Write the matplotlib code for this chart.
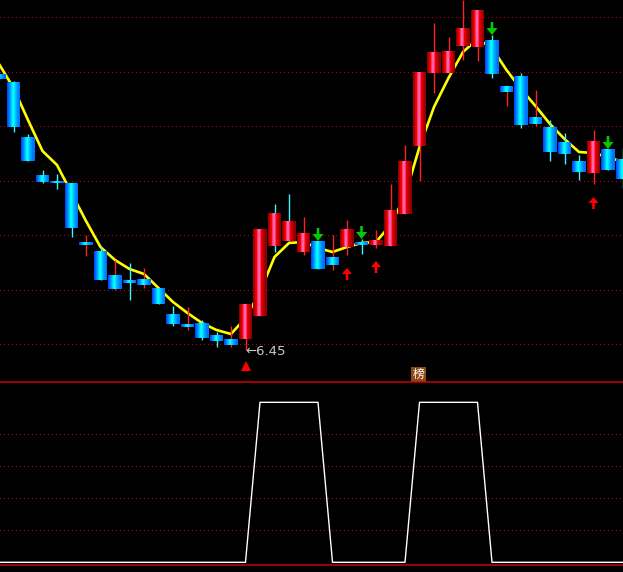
import numpy as np
import matplotlib.pyplot as plt

# daily bars (price units)
opens = [7.83, 7.79, 7.515, 7.325, 7.295, 7.285, 6.99, 6.945, 6.825, 6.80, 6.805,
         6.76, 6.63, 6.58, 6.585, 6.525, 6.505, 6.505, 6.62, 6.97, 6.995, 6.94,
         6.995, 6.915, 6.965, 6.99, 6.975, 6.97, 7.13, 7.47, 7.835, 7.835, 7.97,
         7.965, 8.00, 7.77, 7.82, 7.615, 7.565, 7.49, 7.395, 7.335, 7.455, 7.405]
closes = [7.805, 7.565, 7.395, 7.29, 7.285, 7.06, 6.975, 6.80, 6.755, 6.785, 6.775,
          6.68, 6.58, 6.565, 6.51, 6.495, 6.475, 6.68, 7.055, 7.135, 7.095, 7.035,
          6.855, 6.875, 7.055, 6.975, 7.00, 7.15, 7.395, 7.84, 7.94, 7.945, 8.06,
          8.15, 7.83, 7.74, 7.575, 7.58, 7.44, 7.43, 7.34, 7.495, 7.35, 7.305]
highs = [7.83, 7.795, 7.53, 7.35, 7.33, 7.285, 7.025, 6.97, 6.90, 6.885, 6.86,
         6.76, 6.67, 6.665, 6.60, 6.54, 6.57, 6.68, 7.055, 7.18, 7.23, 7.115,
         6.995, 7.025, 7.10, 7.005, 7.05, 7.28, 7.475, 7.84, 8.085, 8.015, 8.20,
         8.15, 8.025, 7.775, 7.835, 7.75, 7.60, 7.535, 7.425, 7.55, 7.455, 7.46]
lows = [7.805, 7.54, 7.395, 7.285, 7.255, 7.015, 6.92, 6.80, 6.75, 6.70, 6.76,
        6.68, 6.57, 6.55, 6.50, 6.465, 6.465, 6.45, 6.62, 6.94, 6.995, 6.925,
        6.855, 6.85, 6.925, 6.93, 6.96, 6.97, 7.13, 7.295, 7.735, 7.835, 7.90,
        7.895, 7.81, 7.67, 7.56, 7.57, 7.395, 7.38, 7.30, 7.28, 7.35, 7.26]
ma_line = [7.88, 7.76, 7.60, 7.445, 7.375, 7.235, 7.095, 6.965, 6.90, 6.855, 6.83,
           6.76, 6.69, 6.635, 6.585, 6.55, 6.53, 6.61, 6.74, 6.915, 6.985, 6.99,
           6.96, 6.94, 6.965, 6.985, 6.99, 7.075, 7.22, 7.465, 7.665, 7.81, 7.94,
           8.005, 7.96, 7.85, 7.755, 7.67, 7.58, 7.505, 7.44, 7.435, 7.415, 7.39]
signal = [0] * 18 + [1] * 5 + [0] * 6 + [1] * 5 + [0] * 10

red_wick_down = [6, 8, 10, 13, 16, 23, 35, 37]
cyan_wick_up = [19, 20]
buy_arrows = [24, 26, 41]
sell_arrows = [22, 25, 34, 42]
low_mark = 17
low_label = "6.45"
bang_day = 29
bang_text = "榜"

n = len(opens)
idx = np.arange(n)
PX = 1 / 14.5      # one pixel in x data units
PY = 0.005         # one pixel in price units

up_cols = ['#8c0000', '#b40000', '#dc0000', '#ff0000', '#ff3868', '#ff64a8', '#ff64a8',
           '#ff3070', '#f00000', '#d20000', '#bc0000', '#a40000', '#8c0000']
dn_cols = ['#0048ff', '#0064ff', '#0084ff', '#00a4ff', '#00ccff', '#00f0ff', '#00ffff',
           '#00e4ff', '#00c4ff', '#00a8ff', '#0094ff', '#0080ff', '#0070ff']
grid_red = '#c00000'
line_red = '#cc0000'

fig = plt.figure(figsize=(6.23, 5.72), dpi=100, facecolor='black')
ax = fig.add_axes([0, 190 / 572, 1, 382 / 572])
ax2 = fig.add_axes([0, 0, 1, 190 / 572])
for a in (ax, ax2):
    a.set_facecolor('black')
    a.set_xticks([])
    a.set_yticks([])
    for s in a.spines.values():
        s.set_visible(False)

def dotted(a, lev):
    a.axhline(lev, color=grid_red, lw=0.72, ls=(0, (1, 3)), antialiased=False, zorder=1)

# upper panel
for lev in 6.4785 + 0.2725 * np.arange(7):
    dotted(ax, lev)

ax.plot(idx, ma_line, color='#ffff00', lw=1.9, zorder=2, solid_capstyle='butt')

for i in range(n):
    o, c = opens[i], closes[i]
    up = c > o
    wick_red = (up and i not in cyan_wick_up) or (i in red_wick_down)
    ax.vlines(i, lows[i], highs[i], colors='#ff2020' if wick_red else '#40f0ff',
              lw=1.0, zorder=3)
    lo = min(o, c)
    h = max(abs(c - o), PY)
    bw = 13 * PX
    sw = bw / 13
    offs = -bw / 2 + sw * (np.arange(13) + 0.5)
    ax.bar(i + offs, h, width=sw * 1.08, bottom=lo, color=up_cols if up else dn_cols,
           linewidth=0, zorder=4)

for i in buy_arrows:
    tip = lows[i] - 13 * PY
    ax.arrow(i, tip - 12 * PY, 0, 12 * PY, width=2.6 * PX, head_width=10 * PX,
             head_length=6 * PY, length_includes_head=True, color='#ff0000', lw=0, zorder=5)
for i in sell_arrows:
    tip = highs[i]
    ax.arrow(i, tip + 13 * PY, 0, -13 * PY, width=2.6 * PX, head_width=11 * PX,
             head_length=7 * PY, length_includes_head=True, color='#00cc00', lw=0, zorder=5)

ax.plot(low_mark, lows[low_mark] - 16 * PY, marker='^', color='#ff0000', ms=7,
        mew=0, zorder=5)
ax.text(low_mark - 0.03, lows[low_mark] - 2 * PY, "←" + low_label, color='#c8c8c8',
        fontsize=9.5, ha='left', va='center', zorder=6)
ax.text(bang_day - 0.07, 6.3275, bang_text, color='white', fontsize=8.5,
        family=['Noto Sans CJK SC', 'DejaVu Sans'], ha='center', va='center', zorder=6,
        bbox=dict(boxstyle='square,pad=0.1', fc='#8b4a10', ec='none'))

ax.set_xlim(1 * PX, 624 * PX)
ax.set_ylim(8.20 - 382 * PY, 8.20)

# lower panel
for lev in [0.2, 0.4, 0.6, 0.8]:
    dotted(ax2, lev)
ax2.axhline(1.125, color=line_red, lw=1.1, zorder=2, clip_on=False)
ax2.axhline(-0.017, color=line_red, lw=1.1, zorder=2)
ax2.plot(idx, signal, color='white', lw=1.0, zorder=3)
ax2.set_xlim(1 * PX, 624 * PX)
ax2.set_ylim(-0.0606, 1.127)

fig.savefig('out.png', dpi=100, facecolor='black')
